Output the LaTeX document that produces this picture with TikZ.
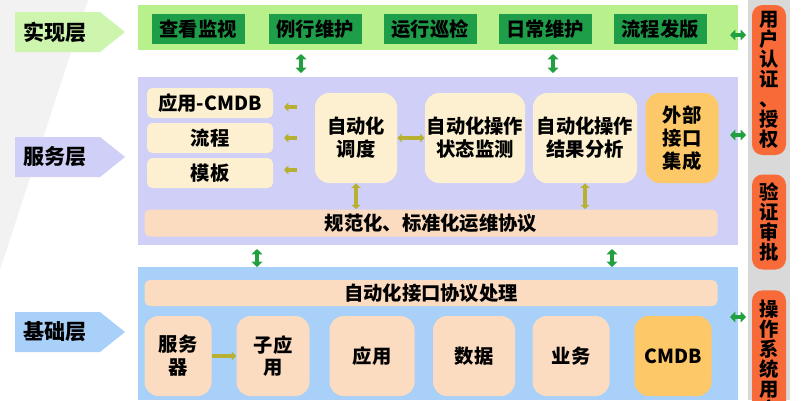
\documentclass[tikz,border=0pt]{standalone}
\usepackage{fontspec}
\setmainfont{Noto Sans CJK SC}
\usetikzlibrary{shapes.arrows,arrows.meta}
\definecolor{lg}{HTML}{B8F08C}
\definecolor{dg}{HTML}{1F9E4A}
\definecolor{lav}{HTML}{CFCFF7}
\definecolor{lb}{HTML}{A8D0F8}
\definecolor{cream}{HTML}{FDF0D0}
\definecolor{peach}{HTML}{FCDCC0}
\definecolor{gold}{HTML}{FDC868}
\definecolor{org}{HTML}{F86A38}
\definecolor{olive}{HTML}{B8B030}
\definecolor{ga}{HTML}{22A040}
\tikzset{
 txt/.style={font=\bfseries\fontsize{11}{13}\selectfont,align=center,text=black},
 bx/.style={txt,rounded corners=3pt,inner sep=0pt},
 vbx/.style={bx,fill=org,rounded corners=6pt,minimum width=34*0.02cm,font=\bfseries\fontsize{11}{11.4}\selectfont},
 gbox/.style={txt,fill=dg,inner sep=0pt},
 lab/.style={txt,font=\bfseries\fontsize{12}{14}\selectfont},
 garr/.style={draw=ga,line width=2.2pt,{Triangle[length=3pt,width=6pt]}-{Triangle[length=3pt,width=6pt]}},
 oarr/.style={draw=olive,line width=2pt,-{Triangle[length=2.5pt,width=5pt]}},
 oarr2/.style={draw=olive,line width=2pt,{Triangle[length=2.5pt,width=5pt]}-{Triangle[length=2.5pt,width=5pt]}},
}
\begin{document}
\begin{tikzpicture}[x=0.02cm,y=-0.02cm]
\useasboundingbox (0,0) rectangle (801,400);
\fill[white] (0,0) rectangle (801,400);
\fill[gray!10] (0,0) -- (88,0) -- (0,270) -- cycle;
% layer labels
\fill[lg!70] (15,12) -- (100,12) -- (125,32) -- (100,52) -- (15,52) -- cycle;
\node[lab] (l1) at (55,32) {实现层};
\fill[lav] (15,137) -- (100,137) -- (125,157) -- (100,177) -- (15,177) -- cycle;
\node[lab] (l2) at (55,157) {服务层};
\fill[lb] (15,312) -- (100,312) -- (125,332) -- (100,352) -- (15,352) -- cycle;
\node[lab] (l3) at (55,332) {基础层};
% bands
\fill[lg] (138,5) rectangle (738,50);
\fill[lav] (138,77) rectangle (738,245);
\fill[lb] (138,267) rectangle (738,400);
% top
\node[gbox,minimum width=93*0.02cm,minimum height=30*0.02cm] (a1) at (198,29) {查看监视};
\node[gbox,minimum width=93*0.02cm,minimum height=30*0.02cm] (a2) at (315,29) {例行维护};
\node[gbox,minimum width=93*0.02cm,minimum height=30*0.02cm] (a3) at (430,29) {运行巡检};
\node[gbox,minimum width=93*0.02cm,minimum height=30*0.02cm] (a4) at (545,29) {日常维护};
\node[gbox,minimum width=93*0.02cm,minimum height=30*0.02cm] (a5) at (660,29) {流程发版};
\coordinate (t1) at (301,54); \coordinate (b1) at (301,73);
\coordinate (t2) at (553,54); \coordinate (b2) at (553,73);
\draw[garr] (t1) -- (b1); \draw[garr] (t2) -- (b2);
% service
\node[bx,fill=cream,minimum width=126*0.02cm,minimum height=30*0.02cm] (s1) at (210,103) {应用-CMDB};
\node[bx,fill=cream,minimum width=126*0.02cm,minimum height=30*0.02cm] (s2) at (210,138) {流程};
\node[bx,fill=cream,minimum width=126*0.02cm,minimum height=30*0.02cm] (s3) at (210,173) {模板};
\node[bx,fill=cream,rounded corners=8pt,minimum width=82*0.02cm,minimum height=90*0.02cm] (c1) at (356,138) {自动化\\调度};
\node[bx,fill=cream,rounded corners=8pt,minimum width=100*0.02cm,minimum height=90*0.02cm] (c2) at (475,138) {自动化操作\\状态监测};
\node[bx,fill=cream,rounded corners=8pt,minimum width=104*0.02cm,minimum height=90*0.02cm] (c3) at (585,138) {自动化操作\\结果分析};
\node[bx,fill=gold,rounded corners=8pt,minimum width=73*0.02cm,minimum height=90*0.02cm] (c4) at (682,138) {外部\\接口\\集成};
\node[bx,fill=peach,minimum width=573*0.02cm,minimum height=27*0.02cm] (p1) at (431,223) {规范化、标准化运维协议};
\foreach \yy in {107,138,170}{\draw[oarr] (297,\yy) -- (284,\yy);}
\draw[oarr2] (c1.east) -- (c2.west);
\draw[oarr2] (c1.south) -- (p1.north -| c1.south);
\draw[oarr2] (c3.south) -- (p1.north -| c3.south);
\coordinate (t3) at (257,249); \coordinate (b3) at (257,267);
\coordinate (t4) at (612,249); \coordinate (b4) at (612,267);
\draw[garr] (t3) -- (b3); \draw[garr] (t4) -- (b4);
% base
\node[bx,fill=peach,minimum width=573*0.02cm,minimum height=26*0.02cm] (p2) at (431,293) {自动化接口协议处理};
\node[bx,fill=peach,rounded corners=8pt,minimum width=67*0.02cm,minimum height=80*0.02cm] (d1) at (178,356) {服务\\器};
\node[bx,fill=peach,rounded corners=8pt,minimum width=73*0.02cm,minimum height=80*0.02cm] (d2) at (273,356) {子应\\用};
\node[bx,fill=peach,rounded corners=8pt,minimum width=85*0.02cm,minimum height=80*0.02cm] (d3) at (372,356) {应用};
\node[bx,fill=peach,rounded corners=8pt,minimum width=82*0.02cm,minimum height=80*0.02cm] (d4) at (474,356) {数据};
\node[bx,fill=peach,rounded corners=8pt,minimum width=77*0.02cm,minimum height=80*0.02cm] (d5) at (571,356) {业务};
\node[bx,fill=gold,rounded corners=8pt,minimum width=77*0.02cm,minimum height=80*0.02cm] (d6) at (673,356) {CMDB};
\draw[oarr] (d1.east) -- (d2.west);
% right column
\fill[gray!30] (748,0) rectangle (790,400);
\begin{scope}
\clip (748,0) rectangle (790,400);
\node[vbx,minimum height=150*0.02cm] (r1) at (769,80) {用\\户\\认\\证\\、\\授\\权};
\node[vbx,minimum height=95*0.02cm] (r2) at (769,222) {验\\证\\审\\批};
\node[vbx,anchor=north,minimum height=130*0.02cm] (r3) at (769,290) {\rule{0pt}{14pt}操\\作\\系\\统\\用\\户};
\end{scope}
\coordinate (h1) at (730,35); \coordinate (h1e) at (746,35);
\coordinate (h2) at (730,135); \coordinate (h2e) at (746,135);
\coordinate (h3) at (730,317); \coordinate (h3e) at (746,317);
\draw[garr] (h1) -- (h1e); \draw[garr] (h2) -- (h2e); \draw[garr] (h3) -- (h3e);
\end{tikzpicture}
\end{document}
